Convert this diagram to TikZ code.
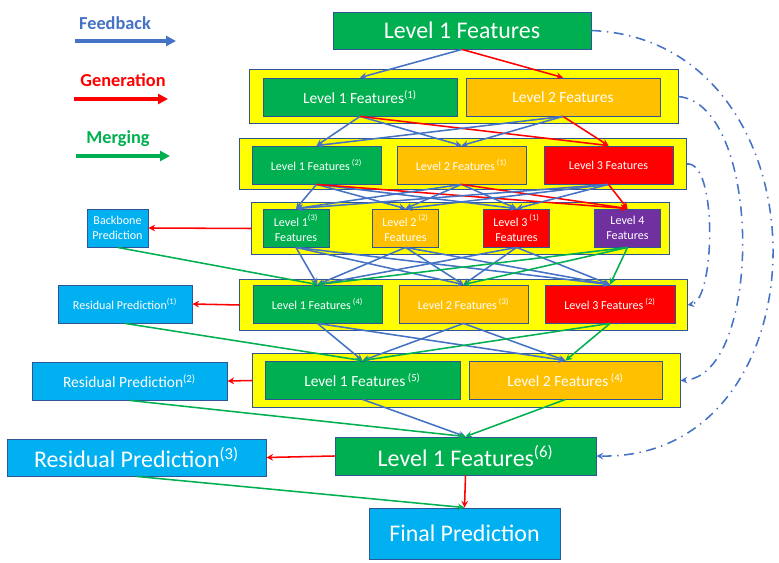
\documentclass[tikz,border=0pt]{standalone}
\usepackage{fontspec}
\setmainfont{Carlito}
\usetikzlibrary{arrows.meta}

\definecolor{fbblue}{HTML}{4472C4}
\definecolor{edgeblue}{HTML}{2F5597}
\definecolor{mgreen}{HTML}{00B050}
\definecolor{lvorange}{HTML}{FFC000}
\definecolor{lvpurple}{HTML}{7030A0}
\definecolor{predblue}{HTML}{00B0F0}
\definecolor{rowyellow}{HTML}{FFFF00}

\begin{document}
\begin{tikzpicture}[x=0.025cm, y=-0.025cm,
    box/.style={draw=edgeblue, line width=0.6pt, inner sep=0pt, text=white, align=center},
    rowbox/.style={draw=edgeblue, fill=rowyellow, line width=0.7pt, inner sep=0pt},
    bigfont/.style={font=\fontsize{17}{20}\selectfont},
    midfont/.style={font=\fontsize{11}{13}\selectfont},
    smallfont/.style={font=\fontsize{8.6}{10.6}\selectfont},
    fb/.style={fbblue, line width=1.1pt, -stealth},
    gen/.style={red, line width=1.1pt, -stealth},
    mrg/.style={mgreen, line width=1.1pt, -stealth},
    loop/.style={fbblue, line width=1.1pt, dash pattern=on 7pt off 4pt on 1pt off 4pt, -stealth}]
    \useasboundingbox (0,0) rectangle (779,563);

    % legend
    \node[fbblue, font=\fontsize{13}{15}\selectfont\bfseries] (fbtxt) at (115,23) {Feedback};
    \node[red, font=\fontsize{13}{15}\selectfont\bfseries] (gentxt) at (123,80) {Generation};
    \node[mgreen, font=\fontsize{13}{15}\selectfont\bfseries] (mrgtxt) at (118,139) {Merging};
    \coordinate (fbs) at (75,41);
    \coordinate (fbe) at (176,41);
    \coordinate (gens) at (74,99);
    \coordinate (gene) at (168,99);
    \coordinate (mrgs) at (76,156);
    \coordinate (mrge) at (170,156);
    \draw[fbblue, line width=2.5pt, -{Triangle[length=7pt,width=7pt]}] (fbs) -- (fbe);
    \draw[red, line width=2.5pt, -{Triangle[length=7pt,width=7pt]}] (gens) -- (gene);
    \draw[mgreen, line width=2.5pt, -{Triangle[length=7pt,width=7pt]}] (mrgs) -- (mrge);

    % yellow rows
    \node[rowbox, minimum width=10.7cm, minimum height=1.325cm] (ra) at (464,96.5) {};
    \node[rowbox, minimum width=11.15cm, minimum height=1.25cm] (rb) at (463,164) {};
    \node[rowbox, minimum width=10.425cm, minimum height=1.275cm] (rc) at (460.5,228.5) {};
    \node[rowbox, minimum width=11.175cm, minimum height=1.25cm] (rd) at (463.5,305) {};
    \node[rowbox, minimum width=10.675cm, minimum height=1.325cm] (re) at (466.5,380.5) {};

    % feature boxes
    \node[box, bigfont, fill=mgreen, minimum width=6.45cm, minimum height=0.925cm] (top) at (462,30.5) {Level 1 Features};

    \node[box, midfont, fill=mgreen, minimum width=4.85cm, minimum height=0.95cm] (a1) at (360,97) {Level 1 Features\textsuperscript{(1)}};
    \node[box, midfont, fill=lvorange, minimum width=4.85cm, minimum height=0.95cm] (a2) at (563,97) {Level 2 Features};

    \node[box, smallfont, fill=mgreen, minimum width=3.225cm, minimum height=0.95cm] (b1) at (316.5,165) {Level 1 Features\,\textsuperscript{(2)}};
    \node[box, smallfont, fill=lvorange, minimum width=3.225cm, minimum height=0.95cm] (b2) at (461.5,165) {Level 2 Features\,\textsuperscript{(1)}};
    \node[box, smallfont, fill=red, minimum width=3.225cm, minimum height=0.95cm] (b3) at (608.5,165) {Level 3 Features};

    \node[box, smallfont, fill=mgreen, minimum width=1.65cm, minimum height=0.95cm] (c1) at (296,228) {Level 1\textsuperscript{(3)}\\Features};
    \node[box, smallfont, fill=lvorange, minimum width=1.65cm, minimum height=0.95cm] (c2) at (405.5,228) {Level 2\,\textsuperscript{(2)}\\Features};
    \node[box, smallfont, fill=red, minimum width=1.65cm, minimum height=0.95cm] (c3) at (516.5,228) {Level 3\,\textsuperscript{(1)}\\Features};
    \node[box, smallfont, fill=lvpurple, minimum width=1.65cm, minimum height=0.95cm] (c4) at (627.5,228) {Level 4\\Features};

    \node[box, smallfont, fill=mgreen, minimum width=3.225cm, minimum height=0.95cm] (d1) at (317.5,304) {Level 1 Features\,\textsuperscript{(4)}};
    \node[box, smallfont, fill=lvorange, minimum width=3.225cm, minimum height=0.95cm] (d2) at (463.5,304) {Level 2 Features\,\textsuperscript{(3)}};
    \node[box, smallfont, fill=red, minimum width=3.25cm, minimum height=0.95cm] (d3) at (610,304) {Level 3 Features\,\textsuperscript{(2)}};

    \node[box, midfont, fill=mgreen, minimum width=4.875cm, minimum height=0.95cm] (e1) at (362.5,380) {Level 1 Features\,\textsuperscript{(5)}};
    \node[box, midfont, fill=lvorange, minimum width=4.825cm, minimum height=0.95cm] (e2) at (565.5,380) {Level 2 Features\,\textsuperscript{(4)}};

    \node[box, bigfont, fill=mgreen, minimum width=6.525cm, minimum height=0.95cm] (f1) at (465.5,456) {Level 1 Features\textsuperscript{(6)}};

    % predictions
    \node[box, smallfont, fill=predblue, minimum width=1.525cm, minimum height=0.95cm] (bb) at (117.5,228) {Backbone\\Prediction};
    \node[box, smallfont, fill=predblue, minimum width=3.35cm, minimum height=0.95cm] (rp1) at (125,304) {Residual Prediction\textsuperscript{(1)}};
    \node[box, midfont, fill=predblue, minimum width=4.875cm, minimum height=0.95cm] (rp2) at (129.5,381) {Residual Prediction\textsuperscript{(2)}};
    \node[box, bigfont, fill=predblue, minimum width=6.475cm, minimum height=0.925cm] (rp3) at (136.5,457.5) {Residual Prediction\textsuperscript{(3)}};
    \node[box, bigfont, fill=predblue, minimum width=4.775cm, minimum height=1.275cm] (fp) at (464.5,533.5) {Final Prediction};

    % top -> row 1
    \draw[fb] (top.south) -- (a1.north);
    \draw[gen] (top.south) -- (a2.north);

    % row 1 -> row 2
    \draw[fb] (a1.south) -- (b1.north);
    \draw[fb] (a1.south) -- (b2.north);
    \draw[gen] (a1.south) -- (b3.north);
    \draw[fb] (a2.south) -- (b1.north);
    \draw[fb] (a2.south) -- (b2.north);
    \draw[gen] (a2.south) -- (b3.north);

    % row 2 -> row 3
    \draw[fb] (b1.south) -- (c1.north);
    \draw[fb] (b1.south) -- (c2.north);
    \draw[fb] (b1.south) -- (c3.north);
    \draw[gen] (b1.south) -- (c4.north);
    \draw[fb] (b2.south) -- (c1.north);
    \draw[fb] (b2.south) -- (c2.north);
    \draw[fb] (b2.south) -- (c3.north);
    \draw[gen] (b2.south) -- (c4.north);
    \draw[fb] (b3.south) -- (c1.north);
    \draw[fb] (b3.south) -- (c2.north);
    \draw[fb] (b3.south) -- (c3.north);
    \draw[gen] (b3.south) -- (c4.north);

    % row 3 -> row 4
    \draw[fb] (c1.south) -- (d1.north);
    \draw[fb] (c1.south) -- (d2.north);
    \draw[fb] (c1.south) -- (d3.north);
    \draw[fb] (c2.south) -- (d1.north);
    \draw[fb] (c2.south) -- (d2.north);
    \draw[fb] (c2.south) -- (d3.north);
    \draw[fb] (c3.south) -- (d1.north);
    \draw[fb] (c3.south) -- (d2.north);
    \draw[fb] (c3.south) -- (d3.north);
    \draw[mrg] (c4.south) -- (d1.north);
    \draw[mrg] (c4.south) -- (d2.north);
    \draw[mrg] (c4.south) -- (d3.north);
    \draw[mrg] (bb.south) -- (d1.north);

    % row 4 -> row 5
    \draw[fb] (d1.south) -- (e1.north);
    \draw[fb] (d1.south) -- (e2.north);
    \draw[fb] (d2.south) -- (e1.north);
    \draw[fb] (d2.south) -- (e2.north);
    \draw[mrg] (d3.south) -- (e1.north);
    \draw[mrg] (d3.south) -- (e2.north);
    \draw[mrg] (rp1.south) -- (e1.north);

    % row 5 -> last
    \draw[fb] (e1.south) -- (f1.north);
    \draw[mrg] (e2.south) -- (f1.north);
    \draw[mrg] (rp2.south) -- (f1.north);
    \draw[gen] (f1.south) -- (fp.north);
    \draw[mrg] (rp3.south) -- (fp.north);

    % predictions
    \draw[gen] (rc.west) -- (bb.east);
    \draw[gen] (rd.west) -- (rp1.east);
    \draw[gen] (re.west) -- (rp2.east);
    \draw[gen] (f1.west) -- (rp3.east);

    % feedback loops
    \draw[loop] (top.east) .. controls (832,40) and (832,460) .. (f1.east);
    \draw[loop] (ra.east) .. controls (763,105) and (763,375) .. (re.east);
    \draw[loop] (rb.east) .. controls (718,160) and (715,300) .. (rd.east);
\end{tikzpicture}
\end{document}
